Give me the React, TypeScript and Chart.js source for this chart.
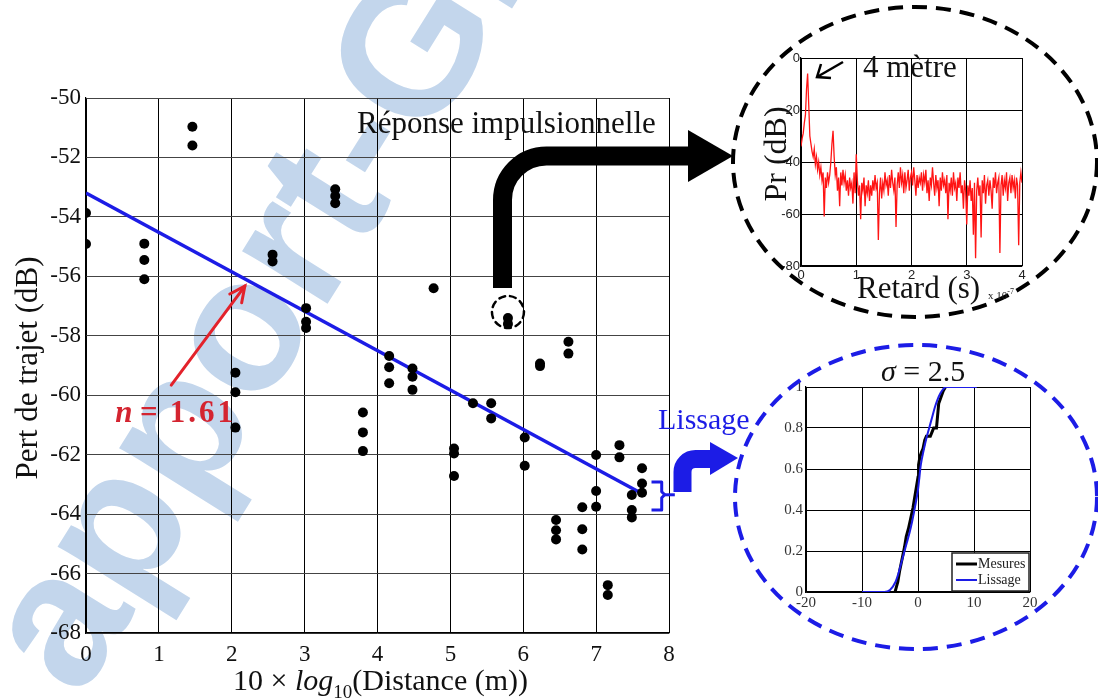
import React, { useEffect, useRef } from "react";
import { Chart, registerables } from "chart.js";

Chart.register(...registerables);
Chart.defaults.font.family = '"Liberation Serif", "Times New Roman", serif';

// ---------- Main chart: path loss vs 10*log10(distance) ----------
const distanceLog = [
  0, 0,
  0.8, 0.8, 0.8,
  1.46, 1.46,
  2.05, 2.05, 2.05,
  2.56, 2.56,
  3.02, 3.02, 3.02,
  3.42, 3.42, 3.42,
  3.8, 3.8, 3.8,
  4.16, 4.16, 4.16,
  4.48, 4.48, 4.48,
  4.77,
  5.05, 5.05, 5.05,
  5.31,
  5.56, 5.56,
  5.79, 5.79,
  6.02, 6.02,
  6.23, 6.23,
  6.45, 6.45, 6.45,
  6.62, 6.62,
  6.81, 6.81, 6.81,
  7.0, 7.0, 7.0,
  7.16, 7.16,
  7.32, 7.32,
  7.49, 7.49, 7.49,
  7.63, 7.63, 7.63,
];
const pathLossDb = [
  -53.87, -54.91,
  -54.9, -55.45, -56.1,
  -50.97, -51.6,
  -59.24, -59.9, -61.09,
  -55.27, -55.5,
  -57.07, -57.53, -57.74,
  -53.07, -53.3, -53.54,
  -60.58, -61.25, -61.88,
  -58.68, -59.06, -59.6,
  -59.1, -59.38, -59.82,
  -56.4,
  -61.79, -61.96, -62.72,
  -60.27,
  -60.27, -60.78,
  -57.4, -57.6,
  -61.42, -62.37,
  -58.93, -59.02,
  -64.2, -64.54, -64.85,
  -58.2, -58.6,
  -63.77, -64.51, -65.19,
  -62.01, -63.22, -63.75,
  -66.39, -66.72,
  -61.68, -62.09,
  -63.36, -63.86, -64.11,
  -62.46, -62.97, -63.28,
];
const fitLogX = [0, 7.62];
const fitLossDb = [-53.2, -63.3];
const mainXTicks = [0, 1, 2, 3, 4, 5, 6, 7, 8];
const mainYTicks = [-68, -66, -64, -62, -60, -58, -56, -54, -52, -50];

// ---------- Inset 1: impulse response (4 m) ----------
const delayStep = 0.02; // x 1e-7 s per sample
const impulseDb = [
  -34, -31, -29, -25, -22, -12, -6, -18, -30, -33,
  -36, -38, -35, -41, -38, -43, -40, -45, -42, -47,
  -44, -61, -46, -50, -44, -48, -45, -40, -33, -28,
  -38, -45, -42, -51, -46, -57, -44, -49, -43, -48,
  -45, -51, -47, -53, -46, -50, -48, -56, -44, -52,
  -37, -47, -53, -49, -62, -48, -51, -46, -57, -49,
  -52, -47, -55, -49, -53, -47, -51, -45, -50, -48,
  -70, -52, -46, -54, -48, -51, -44, -49, -47, -53,
  -45, -50, -43, -48, -51, -46, -65, -49, -44, -50,
  -42, -48, -45, -52, -44, -50, -47, -43, -51, -46,
  -44, -49, -42, -47, -53, -45, -50, -46, -48, -44,
  -51, -45, -48, -43, -52, -47, -55, -46, -49, -42,
  -48, -53, -45, -50, -47, -57, -46, -51, -44, -49,
  -47, -52, -45, -62, -48, -51, -46, -53, -44, -50,
  -48, -55, -46, -50, -44, -52, -49, -58, -47, -51,
  -64, -49, -53, -47, -55, -50, -68, -48, -77, -51,
  -46, -53, -49, -69, -47, -52, -45, -56, -49, -47,
  -53, -47, -51, -58, -46, -50, -44, -52, -48, -46,
  -75, -49, -45, -53, -47, -50, -44, -55, -48, -46,
  -52, -45, -50, -47, -54, -46, -49, -72, -48, -44,
  -48,
];
const inset1XTicks = [0, 1, 2, 3, 4];
const inset1YTicks = [-80, -60, -40, -20, 0];

// ---------- Inset 2: CDF, measurements vs smoothing ----------
const measX = [-4.1, -3.9, -3.6, -3.3, -3.0, -2.7, -2.4, -2.1, -1.7, -1.3, -0.9, -0.6, -0.3, 0, 0.1, 0.35, 0.6, 0.9, 1.2, 1.5, 2.2, 2.5, 2.8, 3.3, 3.5, 3.7, 4.1, 4.5, 4.9];
const measY = [0, 0.02, 0.05, 0.1, 0.14, 0.18, 0.22, 0.27, 0.31, 0.36, 0.41, 0.46, 0.51, 0.56, 0.62, 0.66, 0.68, 0.7, 0.74, 0.76, 0.76, 0.78, 0.8, 0.8, 0.86, 0.92, 0.95, 0.98, 1.0];
const smoothX = [-10, -6, -5, -4, -3.5, -3, -2.5, -2, -1.5, -1, -0.5, 0, 0.5, 1, 1.5, 2, 2.5, 3, 3.5, 4, 4.5, 5, 6, 10.5];
const smoothY = [0, 0, 0.01, 0.05, 0.09, 0.14, 0.19, 0.24, 0.29, 0.35, 0.42, 0.5, 0.62, 0.69, 0.75, 0.8, 0.85, 0.9, 0.94, 0.97, 0.99, 1.0, 1, 1];
const inset2XTicks = [-20, -10, 0, 10, 20];
const inset2YTicks = [0, 0.2, 0.4, 0.6, 0.8, 1];

const SERIF = '"Liberation Serif", "Times New Roman", serif';
const SANS = '"Liberation Sans", Arial, sans-serif';
const BLUE = "#1c1ce6";

const mainAnnotations = {
  id: "mainAnnotations",
  afterDatasetsDraw(chart: any) {
    const { ctx } = chart;
    const xs = chart.scales.x;
    const ys = chart.scales.y;
    const X = (v: number) => xs.getPixelForValue(v);
    const Y = (v: number) => ys.getPixelForValue(v);
    ctx.save();
    // red arrow pointing to the fit line
    const ax0 = X(1.17), ay0 = Y(-59.66), ax1 = X(2.18), ay1 = Y(-56.33);
    ctx.strokeStyle = "#e3222b";
    ctx.lineWidth = 3;
    ctx.lineCap = "round";
    ctx.beginPath();
    ctx.moveTo(ax0, ay0);
    ctx.lineTo(ax1, ay1);
    ctx.stroke();
    const ang = Math.atan2(ay1 - ay0, ax1 - ax0);
    const hl = 17, sp = 0.45;
    ctx.beginPath();
    ctx.moveTo(ax1 - hl * Math.cos(ang - sp), ay1 - hl * Math.sin(ang - sp));
    ctx.lineTo(ax1, ay1);
    ctx.lineTo(ax1 - hl * Math.cos(ang + sp), ay1 - hl * Math.sin(ang + sp));
    ctx.stroke();
    // n = 1.61
    ctx.fillStyle = "#d42430";
    ctx.textBaseline = "alphabetic";
    ctx.textAlign = "left";
    const by = Y(-60.9);
    ctx.font = `italic bold 31px ${SERIF}`;
    ctx.fillText("n", X(0.4), by);
    ctx.font = `bold 31px ${SERIF}`;
    ctx.fillText("=", X(0.74), by);
    (ctx as any).letterSpacing = "3px";
    ctx.fillText("1.61", X(1.15), by);
    (ctx as any).letterSpacing = "0px";
    // dashed circle around the impulse-response point
    ctx.setLineDash([6, 5]);
    ctx.strokeStyle = "#000";
    ctx.lineWidth = 2.5;
    ctx.beginPath();
    ctx.arc(X(5.79), Y(-57.2), 16, 0, Math.PI * 2);
    ctx.stroke();
    ctx.setLineDash([]);
    // blue brace
    const xl = X(7.76), xr = X(7.9), xt = X(8.08);
    const yt = Y(-62.92), ym = Y(-63.35), yb = Y(-63.86);
    ctx.strokeStyle = BLUE;
    ctx.lineWidth = 3;
    ctx.lineCap = "butt";
    ctx.lineJoin = "round";
    ctx.beginPath();
    ctx.moveTo(xl, yt);
    ctx.lineTo(xr, yt);
    ctx.lineTo(xr, ym - 3);
    ctx.lineTo(xr + 3, ym);
    ctx.lineTo(xr, ym + 3);
    ctx.lineTo(xr, yb);
    ctx.lineTo(xl, yb);
    ctx.stroke();
    ctx.beginPath();
    ctx.moveTo(xr + 3, ym);
    ctx.lineTo(xt, ym);
    ctx.stroke();
    ctx.restore();
  },
};

const insetLegend = {
  id: "insetLegend",
  afterDraw(chart: any) {
    const { ctx, chartArea: a } = chart;
    const w = 77, h = 38;
    const bx = a.right - w - 1, by = a.bottom - h - 1;
    ctx.save();
    ctx.fillStyle = "#fff";
    ctx.fillRect(bx, by, w, h);
    ctx.strokeStyle = "#222";
    ctx.lineWidth = 1.5;
    ctx.strokeRect(bx, by, w, h);
    ctx.font = `14px ${SERIF}`;
    ctx.textBaseline = "middle";
    ctx.fillStyle = "#222";
    chart.data.datasets.forEach((ds: any, i: number) => {
      const yy = by + 11 + i * 16;
      ctx.strokeStyle = ds.borderColor;
      ctx.lineWidth = ds.borderWidth;
      ctx.beginPath();
      ctx.moveTo(bx + 4, yy);
      ctx.lineTo(bx + 25, yy);
      ctx.stroke();
      ctx.fillText(ds.label, bx + 26, yy);
    });
    ctx.restore();
  },
};

function tickSetter(values: number[]) {
  return (s: any) => {
    s.ticks = values.map((v) => ({ value: v }));
  };
}

const plainLabel = (v: any) => String(Math.round(Number(v) * 10) / 10);

export default function App() {
  const mainRef = useRef<HTMLCanvasElement>(null);
  const in1Ref = useRef<HTMLCanvasElement>(null);
  const in2Ref = useRef<HTMLCanvasElement>(null);

  useEffect(() => {
    const charts: Chart[] = [];

    charts.push(
      new Chart(mainRef.current!, {
        type: "scatter",
        data: {
          datasets: [
            {
              label: "Mesures",
              data: distanceLog.map((x, i) => ({ x, y: pathLossDb[i] })),
              backgroundColor: "#000",
              pointRadius: 5,
              pointBorderWidth: 0,
              order: 1,
            },
            {
              type: "line",
              label: "Régression",
              data: fitLogX.map((x, i) => ({ x, y: fitLossDb[i] })),
              borderColor: BLUE,
              borderWidth: 3.5,
              pointRadius: 0,
              fill: false,
              order: 2,
            } as any,
          ],
        },
        options: {
          responsive: false,
          animation: false,
          layout: { padding: { top: 98, right: 31, left: 0, bottom: 0 } },
          plugins: { legend: { display: false }, tooltip: { enabled: false } },
          scales: {
            x: {
              type: "linear",
              min: 0,
              max: 8,
              afterBuildTicks: tickSetter(mainXTicks),
              afterFit: (s: any) => {
                s.height = 67;
              },
              ticks: { font: { size: 23, family: SERIF }, color: "#111", padding: 8, maxRotation: 0, callback: plainLabel },
              grid: { color: "#000", lineWidth: 1, drawTicks: false },
              border: { color: "#000", width: 1.2 },
            },
            y: {
              type: "linear",
              min: -68,
              max: -50,
              afterBuildTicks: tickSetter(mainYTicks),
              afterFit: (s: any) => {
                s.width = 86;
              },
              ticks: { font: { size: 23, family: SERIF }, color: "#111", padding: 5, callback: plainLabel },
              grid: { color: "#444", lineWidth: 1, drawTicks: false },
              border: { color: "#000", width: 1.2 },
            },
          },
        },
        plugins: [mainAnnotations],
      } as any)
    );

    charts.push(
      new Chart(in1Ref.current!, {
        type: "line",
        data: {
          datasets: [
            {
              label: "Pr",
              data: impulseDb.map((v, i) => ({ x: i * delayStep, y: v })),
              borderColor: "#ff1414",
              borderWidth: 1.3,
              pointRadius: 0,
              fill: false,
            },
          ],
        },
        options: {
          responsive: false,
          animation: false,
          layout: { padding: { top: 18, right: 18, left: 0, bottom: 0 } },
          plugins: { legend: { display: false }, tooltip: { enabled: false } },
          scales: {
            x: {
              type: "linear",
              min: 0,
              max: 4,
              afterBuildTicks: tickSetter(inset1XTicks),
              afterFit: (s: any) => {
                s.height = 24;
              },
              ticks: { font: { size: 13, family: SANS }, color: "#222", padding: 2, maxRotation: 0, callback: plainLabel },
              grid: { color: "#000", lineWidth: 1, drawTicks: false },
              border: { color: "#000", width: 1.2 },
            },
            y: {
              type: "linear",
              min: -80,
              max: 0,
              afterBuildTicks: tickSetter(inset1YTicks),
              afterFit: (s: any) => {
                s.width = 61;
              },
              ticks: { font: { size: 13, family: SANS }, color: "#222", padding: 1, callback: plainLabel },
              grid: { color: "#000", lineWidth: 1, drawTicks: false },
              border: { color: "#000", width: 1.2 },
            },
          },
        },
      } as any)
    );

    charts.push(
      new Chart(in2Ref.current!, {
        type: "line",
        data: {
          datasets: [
            {
              label: "Mesures",
              data: measX.map((x, i) => ({ x, y: measY[i] })),
              borderColor: "#000",
              borderWidth: 3,
              pointRadius: 0,
              fill: false,
              order: 2,
            },
            {
              label: "Lissage",
              data: smoothX.map((x, i) => ({ x, y: smoothY[i] })),
              borderColor: BLUE,
              borderWidth: 2,
              pointRadius: 0,
              fill: false,
              cubicInterpolationMode: "monotone",
              order: 1,
            },
          ],
        },
        options: {
          responsive: false,
          animation: false,
          layout: { padding: { top: 17, right: 20, left: 0, bottom: 0 } },
          plugins: { legend: { display: false }, tooltip: { enabled: false } },
          scales: {
            x: {
              type: "linear",
              min: -20,
              max: 20,
              afterBuildTicks: tickSetter(inset2XTicks),
              afterFit: (s: any) => {
                s.height = 28;
              },
              ticks: { font: { size: 15, family: SERIF }, color: "#333", padding: 2, maxRotation: 0, callback: plainLabel },
              grid: { color: "#000", lineWidth: 1, drawTicks: false },
              border: { color: "#000", width: 1.2 },
            },
            y: {
              type: "linear",
              min: 0,
              max: 1,
              afterBuildTicks: tickSetter(inset2YTicks),
              afterFit: (s: any) => {
                s.width = 66;
              },
              ticks: { font: { size: 15, family: SERIF }, color: "#333", padding: 3, callback: plainLabel },
              grid: { color: "#000", lineWidth: 1, drawTicks: false },
              border: { color: "#000", width: 1.2 },
            },
          },
        },
        plugins: [insetLegend],
      } as any)
    );

    return () => charts.forEach((c) => c.destroy());
  }, []);

  const abs = (l: number, t: number, w: number, h: number): React.CSSProperties => ({
    position: "absolute",
    left: l,
    top: t,
    width: w,
    height: h,
  });

  return (
    <div style={{ position: "fixed", left: 0, top: 0, width: 1098, height: 700, background: "#fff", overflow: "hidden" }}>
      <svg width={1098} height={700} style={{ position: "absolute", left: 0, top: 0 }}>
        <text
          x={80}
          y={700}
          transform="rotate(-58 80 700)"
          fontFamily={SANS}
          fontWeight="bold"
          fontSize={190}
          fill="#c3d6ec"
        >
          apport-Gratuit
        </text>
      </svg>
      <canvas ref={mainRef} width={700} height={700} style={abs(0, 0, 700, 700)} />
      <canvas ref={in1Ref} width={300} height={250} style={abs(740, 40, 300, 250)} />
      <canvas ref={in2Ref} width={310} height={250} style={abs(740, 370, 310, 250)} />
      <svg width={1098} height={700} style={{ position: "absolute", left: 0, top: 0, pointerEvents: "none" }} fontFamily={SERIF}>
        {/* main axis titles */}
        <text transform="translate(37 368) rotate(-90)" textAnchor="middle" fontSize={31} fill="#111">
          Pert de trajet (dB)
        </text>
        <text x={233} y={690} fontSize={30} fill="#111">
          10 × <tspan fontStyle="italic">log</tspan>
          <tspan fontSize={19} dy={8}>10</tspan>
          <tspan dy={-8}>(Distance (m))</tspan>
        </text>
        {/* impulse response callout */}
        <text x={357} y={133} fontSize={31} fill="#111">
          Réponse impulsionnelle
        </text>
        <path d="M502.5 288 V200 A44 44 0 0 1 546.5 156 H690" stroke="#000" strokeWidth={19} fill="none" />
        <polygon points="688,130 733,156 688,182" fill="#000" />
        <ellipse cx={915} cy={162} rx={182} ry={155} fill="none" stroke="#000" strokeWidth={4} strokeDasharray="15 9" />
        <text transform="translate(786 154) rotate(-90)" textAnchor="middle" fontSize={32} fill="#111">
          Pr (dB)
        </text>
        <text x={857} y={298} fontSize={31} fill="#111">
          Retard (s)
        </text>
        <text x={988} y={299} fontSize={11} fill="#222">
          x 10<tspan fontSize={8} dy={-5}>-7</tspan>
        </text>
        <text x={863} y={77} fontSize={31} fill="#111">
          4 mètre
        </text>
        <polyline points="843,62 817,77" stroke="#000" strokeWidth={2.5} fill="none" />
        <polyline points="831,78 817,77 821,64" stroke="#000" strokeWidth={2.5} fill="none" />
        {/* smoothing callout */}
        <text x={658} y={429} fontSize={30} fill={BLUE}>
          Lissage
        </text>
        <path d="M682.5 492 V472 A13 13 0 0 1 695.5 459 H712" stroke={BLUE} strokeWidth={18} fill="none" />
        <polygon points="710,442 738,458 710,475" fill={BLUE} />
        <ellipse cx={916} cy={497} rx={181} ry={152} fill="none" stroke={BLUE} strokeWidth={4} strokeDasharray="15 9" />
        <text x={881} y={381} fontSize={30} fill="#111">
          <tspan fontStyle="italic">σ</tspan> = 2.5
        </text>
      </svg>
    </div>
  );
}
